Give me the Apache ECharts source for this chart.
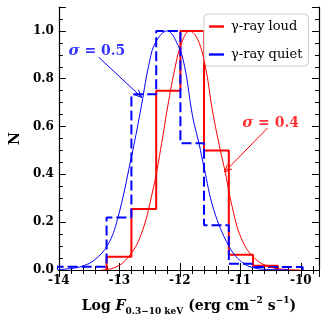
<!DOCTYPE html>
<html>
<head>
<meta charset="utf-8">
<script src="https://cdn.jsdelivr.net/npm/echarts@6/dist/echarts.min.js"></script>
<style>
  html, body { margin: 0; padding: 0; background: #fff; }
  #chart { width: 326px; height: 321px; }
</style>
</head>
<body>
<div id="chart"></div>
<script>
// histogram bin edges and normalised counts
const redEdges = [-13.21, -12.80, -12.39, -11.99, -11.60, -11.19, -10.79, -10.38]
const redCounts = [0.055, 0.255, 0.75, 1.0, 0.5, 0.064, 0.018]
const blueEdges = [-14.03, -13.62, -13.21, -12.80, -12.39, -11.99, -11.60, -11.19, -10.79, -10.38, -9.97]
const blueCounts = [0.014, 0.014, 0.22, 0.735, 1.0, 0.53, 0.187, 0.026, 0.013, 0.013]

// gaussian fits
const redFit = [
  [-13.3, 0.0], [-13.1, 0.008], [-12.9, 0.04], [-12.66, 0.135], [-12.44, 0.34],
  [-12.28, 0.56], [-12.22, 0.655], [-12.08, 0.845], [-11.97, 0.95], [-11.84, 1.0],
  [-11.70, 0.962], [-11.57, 0.84], [-11.46, 0.665], [-11.33, 0.5], [-11.25, 0.41],
  [-11.14, 0.27], [-10.98, 0.13], [-10.76, 0.048], [-10.5, 0.012], [-10.23, 0.002], [-10.0, 0.0]
]
const blueFit = [
  [-14.0, 0.002], [-13.8, 0.006], [-13.6, 0.017], [-13.41, 0.042], [-13.19, 0.105],
  [-13.03, 0.212], [-12.81, 0.46], [-12.65, 0.665], [-12.51, 0.86], [-12.40, 0.952],
  [-12.21, 1.0], [-12.03, 0.94], [-11.92, 0.85], [-11.79, 0.645], [-11.68, 0.526],
  [-11.60, 0.43], [-11.44, 0.253], [-11.19, 0.1], [-10.98, 0.034], [-10.76, 0.008],
  [-10.5, 0.002], [-10.2, 0.0]
]

// annotations: text anchor and arrow [from, to]
const blueNote = [-13.37, 0.914]
const redNote = [-10.5, 0.615]
const blueArrow = [[-13.34, 0.89], [-12.63, 0.722]]
const redArrow = [[-10.55, 0.594], [-11.26, 0.41]]

const serif = 'DejaVu Serif'

function stepLine(edges, counts) {
  const pts = [[edges[0], 0]]
  counts.forEach((c, i) => {
    pts.push([edges[i], c])
    pts.push([edges[i + 1], c])
  })
  pts.push([edges[edges.length - 1], 0])
  return pts
}

const chart = echarts.init(document.getElementById('chart'))

function arrowItem(color) {
  return function (params, api) {
    const p0 = api.coord([api.value(0), api.value(1)])
    const p1 = api.coord([api.value(2), api.value(3)])
    const ang = Math.atan2(p1[1] - p0[1], p1[0] - p0[0])
    const L = 8, spread = 0.4
    const h1 = [p1[0] - L * Math.cos(ang - spread), p1[1] - L * Math.sin(ang - spread)]
    const h2 = [p1[0] - L * Math.cos(ang + spread), p1[1] - L * Math.sin(ang + spread)]
    const st = { stroke: color, lineWidth: 1, fill: null }
    return {
      type: 'group',
      children: [
        { type: 'line', shape: { x1: p0[0], y1: p0[1], x2: p1[0], y2: p1[1] }, style: st },
        { type: 'polyline', shape: { points: [h1, p1, h2] }, style: st }
      ]
    }
  }
}

const noteRich = {
  g: { fontFamily: serif, fontStyle: 'italic', fontWeight: 'bold', fontSize: 15 },
  n: { fontFamily: serif, fontWeight: 'bold', fontSize: 14 }
}

const tickCommon = {
  axisLine: { show: true, lineStyle: { color: '#000', width: 1.2 } },
  axisTick: { show: true, inside: true, length: 7, lineStyle: { color: '#000', width: 1 } },
  splitLine: { show: false }
}
const lineIcon = 'path://M0,0 L16,0 L16,2.5 L0,2.5 Z'

chart.setOption({
  animation: false,
  grid: { left: 51, right: 7, top: 7, bottom: 46 },
  legend: {
    data: [
      { name: 'γ-ray loud', icon: lineIcon },
      { name: 'γ-ray quiet', icon: lineIcon }
    ],
    orient: 'vertical',
    left: 204, top: 14,
    padding: [6, 6, 5, 5],
    itemWidth: 15, itemHeight: 3, itemGap: 15,
    backgroundColor: '#fff',
    borderColor: '#cccccc', borderWidth: 1, borderRadius: 4,
    textStyle: { fontFamily: serif, fontSize: 13, color: '#000', padding: [0, 0, 0, 2] }
  },
  xAxis: [
    Object.assign({
      type: 'value', min: -14, max: -9.7, interval: 1,
      axisLabel: { margin: 5, color: '#000', fontFamily: serif, fontWeight: 'bold', fontSize: 12,
        showMaxLabel: false },
      name: '{a|Log }{i|F}{s|0.3−10 keV}{a| (erg cm}{p|−2}{a| s}{p|−1}{a|)}',
      nameLocation: 'middle', nameGap: 26,
      nameTextStyle: {
        rich: {
          a: { fontFamily: serif, fontWeight: 'bold', fontSize: 14, lineHeight: 20, color: '#000' },
          i: { fontFamily: serif, fontWeight: 'bold', fontStyle: 'italic', fontSize: 14, lineHeight: 20, color: '#000' },
          s: { fontFamily: serif, fontWeight: 'bold', fontSize: 9, lineHeight: 9, verticalAlign: 'bottom', color: '#000' },
          p: { fontFamily: serif, fontWeight: 'bold', fontSize: 9, lineHeight: 9, verticalAlign: 'top', color: '#000' }
        }
      }
    }, tickCommon, { minorTick: { show: true, splitNumber: 5, length: 4, lineStyle: { color: '#000' } } }),
    Object.assign({
      type: 'value', position: 'top', min: -14, max: -9.7, interval: 1,
      axisLabel: { show: false }
    }, tickCommon, { minorTick: { show: true, splitNumber: 5, length: 4, lineStyle: { color: '#000' } } })
  ],
  yAxis: [
    Object.assign({
      type: 'value', min: 0, max: 1.1, interval: 0.2,
      axisLabel: { margin: 5, color: '#000', fontFamily: serif, fontWeight: 'bold', fontSize: 12,
        formatter: v => v.toFixed(1), showMaxLabel: false },
      name: 'N', nameLocation: 'middle', nameGap: 36, nameRotate: 90,
      nameTextStyle: { fontFamily: serif, fontWeight: 'bold', fontSize: 14, color: '#000' }
    }, tickCommon, { minorTick: { show: true, splitNumber: 4, length: 4, lineStyle: { color: '#000' } } }),
    Object.assign({
      type: 'value', position: 'right', min: 0, max: 1.1, interval: 0.2,
      axisLabel: { show: false }
    }, tickCommon, { minorTick: { show: true, splitNumber: 4, length: 4, lineStyle: { color: '#000' } } })
  ],
  series: [
    {
      name: 'γ-ray loud', type: 'line', data: stepLine(redEdges, redCounts),
      symbol: 'none', itemStyle: { color: '#ff0000' },
      lineStyle: { color: '#ff0000', width: 2 }, z: 3
    },
    {
      name: 'γ-ray quiet', type: 'line', data: stepLine(blueEdges, blueCounts),
      symbol: 'none', itemStyle: { color: '#0000ff' },
      lineStyle: { color: '#0000ff', width: 2, type: [10, 4] }, z: 4
    },
    {
      name: 'fit loud', type: 'line', data: redFit, smooth: 0.4,
      symbol: 'none', lineStyle: { color: '#ff0000', width: 1 }, z: 5
    },
    {
      name: 'fit quiet', type: 'line', data: blueFit, smooth: 0.4,
      symbol: 'none', lineStyle: { color: '#0000ff', width: 1 }, z: 5
    },
    {
      type: 'custom', renderItem: arrowItem('#0000ff'),
      data: [[blueArrow[0][0], blueArrow[0][1], blueArrow[1][0], blueArrow[1][1]]], z: 6
    },
    {
      type: 'custom', renderItem: arrowItem('#ff0000'),
      data: [[redArrow[0][0], redArrow[0][1], redArrow[1][0], redArrow[1][1]]], z: 6
    },
    {
      type: 'scatter', symbolSize: 0, data: [blueNote], z: 7,
      label: { show: true, position: 'inside', color: '#0000ff', formatter: '{g|σ}{n| = 0.5}', rich: noteRich }
    },
    {
      type: 'scatter', symbolSize: 0, data: [redNote], z: 7,
      label: { show: true, position: 'inside', color: '#ff0000', formatter: '{g|σ}{n| = 0.4}', rich: noteRich }
    }
  ]
})
</script>
</body>
</html>
